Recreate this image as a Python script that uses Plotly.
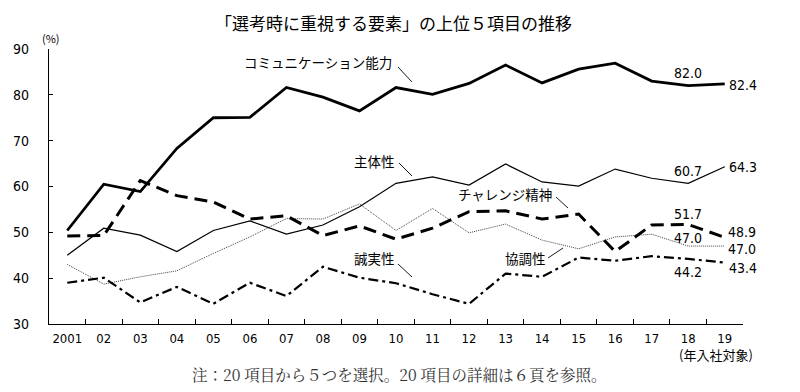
import plotly.graph_objects as go

years = ["2001", "02", "03", "04", "05", "06", "07", "08", "09", "10",
         "11", "12", "13", "14", "15", "16", "17", "18", "19"]

communication = [50.4, 60.5, 58.9, 68.3, 75.0, 75.1, 81.6, 79.5, 76.5, 81.6,
                 80.1, 82.5, 86.5, 82.6, 85.6, 86.9, 83.0, 82.0, 82.4]
shutaisei = [45.0, 50.9, 49.4, 45.8, 50.4, 52.5, 49.6, 51.6, 55.6, 60.7,
             62.1, 60.3, 64.9, 61.0, 60.1, 63.8, 61.8, 60.7, 64.3]
challenge = [49.2, 49.3, 61.3, 58.0, 56.6, 52.9, 53.6, 49.3, 51.4, 48.5,
             50.9, 54.5, 54.7, 52.9, 54.0, 45.8, 51.6, 51.7, 48.9]
seijitsu = [39.0, 40.1, 34.7, 38.1, 34.4, 39.0, 36.1, 42.5, 40.1, 38.9,
            36.5, 34.4, 41.0, 40.3, 44.5, 43.8, 44.8, 44.2, 43.4]
kyouchou = [43.0, 38.7, 40.3, 41.6, 45.4, 49.0, 53.0, 52.9, 56.2, 50.4,
            55.2, 49.9, 51.8, 48.3, 46.4, 49.0, 49.6, 47.0, 47.0]

fig = go.Figure()
fig.add_trace(go.Scatter(x=years, y=kyouchou, mode="lines",
                         line=dict(color="#444", width=1, dash="1px,1px")))
fig.add_trace(go.Scatter(x=years, y=seijitsu, mode="lines",
                         line=dict(color="black", width=2.2, dash="10px,4px,3px,4px")))
fig.add_trace(go.Scatter(x=years, y=challenge, mode="lines",
                         line=dict(color="black", width=3, dash="13px,7px")))
fig.add_trace(go.Scatter(x=years, y=shutaisei, mode="lines",
                         line=dict(color="black", width=1.2)))
fig.add_trace(go.Scatter(x=years, y=communication, mode="lines",
                         line=dict(color="black", width=2.8)))

tick_font = dict(family="Liberation Sans Narrow, DejaVu Sans Condensed, Liberation Sans, Arial",
                 size=13, color="black")
fig.update_xaxes(type="category", range=[-0.5, len(years) - 0.5], tickson="boundaries",
                 ticks="inside", ticklen=5,
                 tickcolor="black", showline=True, linecolor="black", linewidth=1.2,
                 showgrid=False, tickfont=tick_font, zeroline=False, tickangle=0,
                 automargin=False, ticklabelstandoff=2)
fig.update_yaxes(range=[30, 90], dtick=10, ticks="inside", ticklen=4,
                 tickcolor="black", showline=True, linecolor="black", linewidth=1.2,
                 showgrid=False, tickfont=dict(tick_font, size=14), zeroline=False,
                 ticklabelstandoff=16, automargin=False)

jp = "Noto Sans CJK JP"
val_font = dict(family="Liberation Sans Narrow, DejaVu Sans Condensed, Liberation Mono",
                size=14, color="black")
ann = []

# plot area in window pixels
L, R, T, B = 49, 743, 49, 324
OFF = 8  # page body margin
W, H = 800 - 2 * OFF, 392 - 2 * OFF


def px(x, y):
    return (x - L) / (R - L), (B - y) / (B - T)


i18 = years.index("18")
i19 = years.index("19")


def label(text, idx, y, xs=0, ys=0, xanchor="center"):
    ann.append(dict(text=text, x=idx, y=y, xref="x", yref="y", xshift=xs, yshift=ys,
                    showarrow=False, font=val_font, xanchor=xanchor))


# value labels
label("82.0", i18, communication[i18], 0, 13)
label("82.4", i19, communication[i19], 2, -1, xanchor="left")
label("60.7", i18, shutaisei[i18], 0, 12)
label("64.3", i19, shutaisei[i19], 2, 0, xanchor="left")
label("51.7", i18, challenge[i18], 0, 11)
label("48.9", i19, challenge[i19], 1, 5, xanchor="left")
label("47.0", i18, kyouchou[i18], 0, 8)
label("47.0", i19, kyouchou[i19], 1, -3, xanchor="left")
label("44.2", i18, seijitsu[i18], 0, -13)
label("43.4", i19, seijitsu[i19], 2, -5, xanchor="left")

name_font = dict(family=jp, size=13.5, color="black")
for text, x, y in [("コミュニケーション能力", 318, 62), ("主体性", 374, 161),
                   ("チャレンジ精神", 505, 194), ("誠実性", 374, 258),
                   ("協調性", 525, 258)]:
    xp, yp = px(x, y)
    ann.append(dict(text=text, x=xp, y=yp, xref="paper", yref="paper",
                    showarrow=False, font=name_font, xanchor="center", yanchor="middle"))

# leader lines
shapes = []
for x0, y0, x1, y1 in [(398, 67, 412, 82), (399, 163, 412, 176), (556, 197, 568, 208),
                       (398, 264, 412, 277), (548, 258, 563, 248)]:
    a0, b0 = px(x0, y0)
    a1, b1 = px(x1, y1)
    shapes.append(dict(type="line", xref="paper", yref="paper",
                       x0=a0, y0=b0, x1=a1, y1=b1,
                       line=dict(color="black", width=0.9)))


def free(text, x, y, font):
    xp, yp = px(x, y)
    ann.append(dict(text=text, x=xp, y=yp, xref="paper", yref="paper", showarrow=False,
                    font=font, xanchor="center", yanchor="middle"))


free("「選考時に重視する要素」の上位５項目の推移", 393, 22, dict(family=jp, size=17, color="black"))
free("(%)", 51, 38, dict(family=jp, size=11, color="black"))
free("(年入社対象)", 716, 354, dict(family=jp, size=13, color="black"))
free("注：20 項目から５つを選択。20 項目の詳細は６頁を参照。", 399, 374,
     dict(family="Noto Serif CJK JP, Noto Sans CJK JP", size=15.5, color="#333"))

fig.update_layout(width=W, height=H, showlegend=False,
                  margin=dict(l=L - OFF, r=W - (R - OFF), t=T - OFF, b=H - (B - OFF),
                              autoexpand=False),
                  plot_bgcolor="white", paper_bgcolor="white",
                  annotations=ann, shapes=shapes)

fig.write_html("out.html")
